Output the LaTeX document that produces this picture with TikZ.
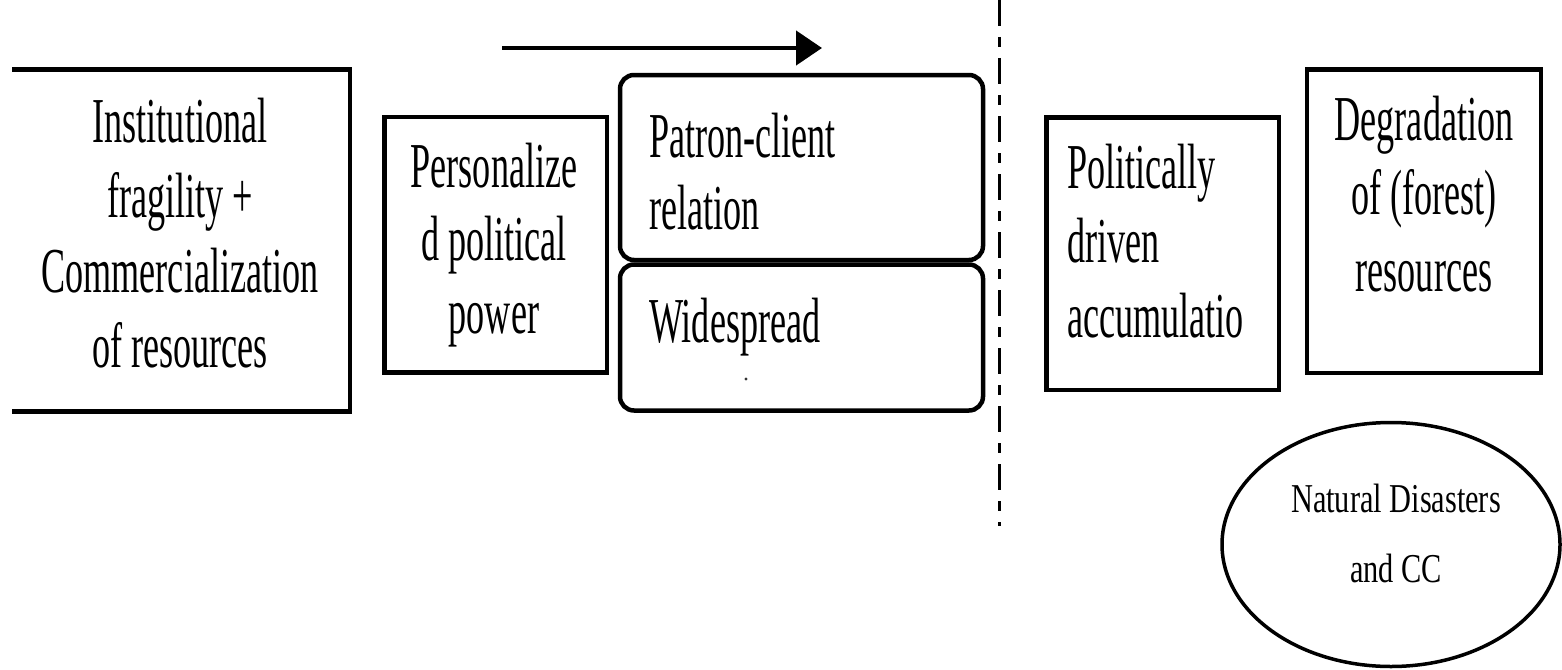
\documentclass[tikz,border=0pt]{standalone}
\usepackage{fontspec}
\newfontfamily\condfont[FakeStretch=0.565]{Liberation Serif}
\newfontfamily\ellfont[FakeStretch=0.74]{Liberation Serif}
\usetikzlibrary{arrows.meta,shapes.geometric}
\begin{document}
\begin{tikzpicture}[x=1pt,y=-1pt,
  box/.style={draw, line width=4.5pt, inner sep=0pt, outer sep=0pt},
  rbox/.style={box, rounded corners=14pt},
  lbl/.style={font=\condfont\fontsize{64}{73}\selectfont, inner sep=0pt, text=black},
  elbl/.style={font=\ellfont\fontsize{41}{70}\selectfont, inner sep=0pt, text=black}]
\useasboundingbox (0,0) rectangle (1562,669);

% boxes
\node[inner sep=0pt, outer sep=0pt, minimum width=338pt, minimum height=342pt] (inst) at (181,240.5) {};
\draw[line width=4.5pt] (inst.north west) -- (inst.north east) -- (inst.south east) -- (inst.south west);
\node[box, minimum width=222.5pt, minimum height=255.5pt] (pers) at (495.75,244.75) {};
\node[rbox, minimum width=363pt, minimum height=185pt] (patron) at (801.5,167.5) {};
\node[rbox, minimum width=363pt, minimum height=146pt] (wide) at (801.5,337.5) {};
\node[box, minimum width=232.5pt, minimum height=272.5pt] (polit) at (1162.75,253.75) {};
\node[box, minimum width=234pt, minimum height=303.5pt] (degr) at (1424,221.25) {};
\node[ellipse, draw, line width=3.5pt, inner sep=0pt, minimum width=338pt, minimum height=244pt] (nat) at (1391,544.5) {};

% arrow
\coordinate (arrS) at (502,48);
\coordinate (arrE) at (822,48);
\draw[line width=4.5pt, -{Triangle[length=26pt,width=34pt]}] (arrS) -- (arrE);

% dashed separator
\coordinate (dT) at (999,0);
\coordinate (dB) at (999,526);
\draw[line width=3pt, dash pattern=on 26pt off 11pt on 10pt off 11pt] (dT) -- (dB);

% texts
\node[lbl, anchor=base] (i1) at (180,142) {Institutional};
\node[lbl, anchor=base] (i2) at (180,217) {fragility +};
\node[lbl, anchor=base] (i3) at (180,292) {Commercialization};
\node[lbl, anchor=base] (i4) at (180,367) {of resources};

\node[lbl, anchor=base] (p1) at (494,187) {Personalize};
\node[lbl, anchor=base] (p2) at (494,260) {d political};
\node[lbl, anchor=base] (p3) at (494,333) {power};

\node[lbl, anchor=base west] (c1) at (649,157) {Patron-client};
\node[lbl, anchor=base west] (c2) at (649,229) {relation};

\node[lbl, anchor=base west] (w1) at (649,342) {Widespread};
\fill[black!80] (746,379) circle (1.6pt);

\node[lbl, anchor=base west] (a1) at (1067,188) {Politically};
\node[lbl, anchor=base west] (a2) at (1067,262) {driven};
\node[lbl, anchor=base west] (a3) at (1067,337) {accumulatio};

\node[lbl, anchor=base] (d1) at (1424,140) {Degradation};
\node[lbl, anchor=base] (d2) at (1424,214) {of (forest)};
\node[lbl, anchor=base] (d3) at (1424,291) {resources};

\node[elbl, anchor=base] (n1) at (1396,512) {Natural Disasters};
\node[elbl, anchor=base] (n2) at (1396,582) {and CC};
\end{tikzpicture}
\end{document}
